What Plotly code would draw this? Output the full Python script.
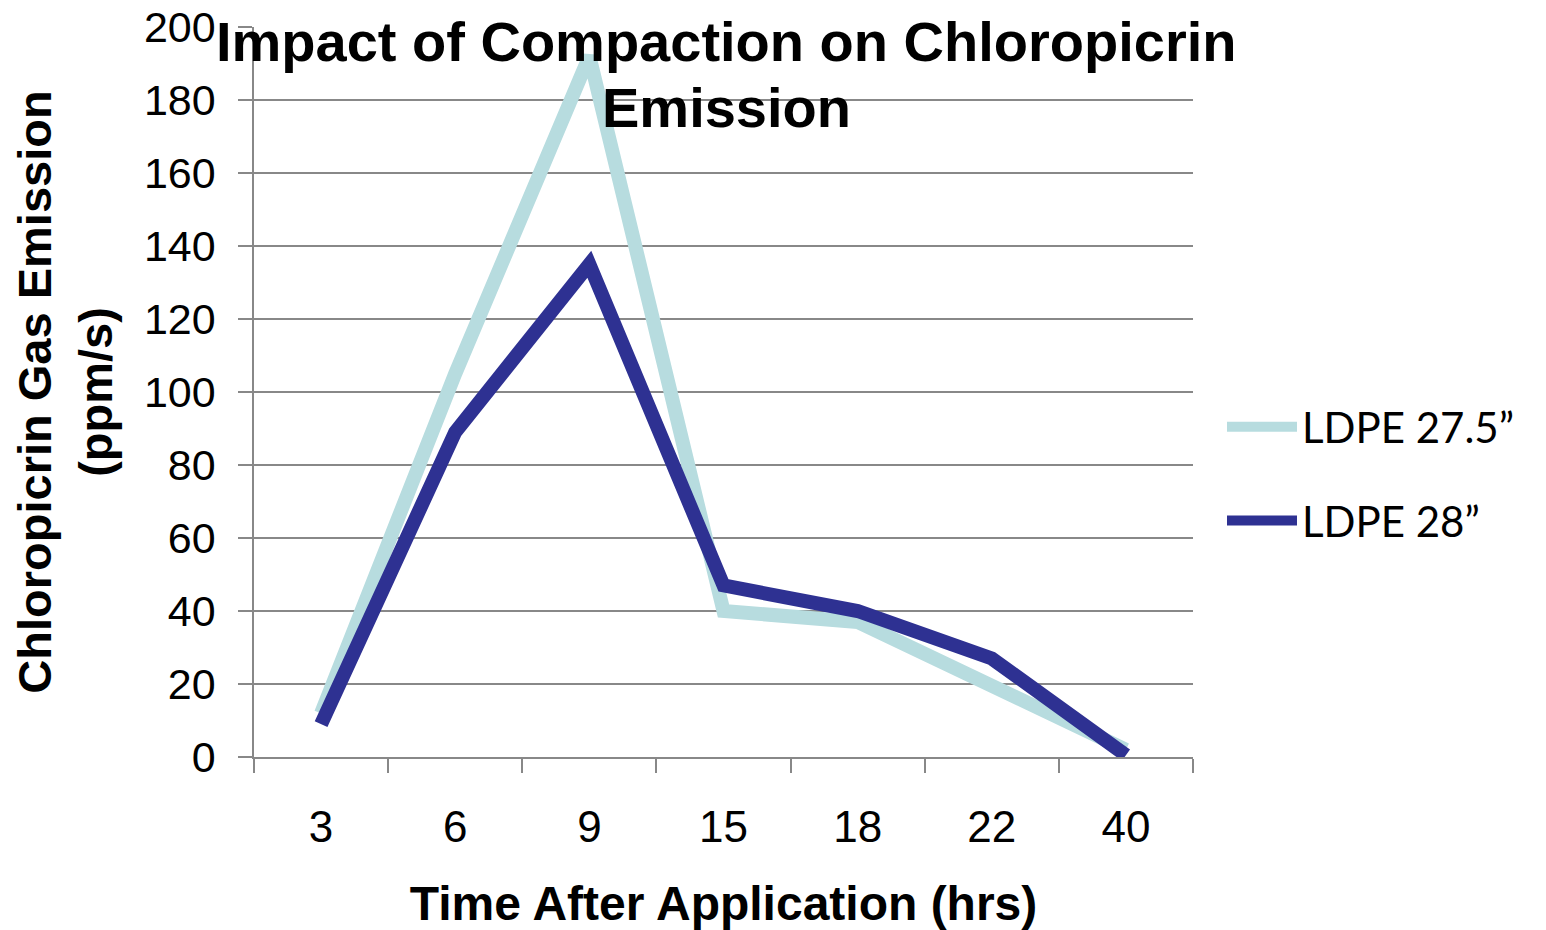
import plotly.graph_objects as go

categories = ["3", "6", "9", "15", "18", "22", "40"]
ldpe_275 = [12, 105, 192, 40, 37, 20, 2]
ldpe_28 = [9, 89, 135, 47, 40, 27, 0.5]
y_ticks = [0, 20, 40, 60, 80, 100, 120, 140, 160, 180, 200]
title_lines = ["Impact of Compaction on Chloropicrin", "Emission"]

FONT = "Liberation Sans, Arial, sans-serif"

fig = go.Figure()
fig.add_trace(go.Scatter(x=categories, y=ldpe_275, mode="lines", name="LDPE 27.5\u201d",
                         legendgroup="a", line=dict(color="#B7DCDF", width=14)))
fig.add_trace(go.Scatter(x=categories, y=ldpe_28, mode="lines", name="LDPE 28\u201d",
                         legendgroup="b", line=dict(color="#2E3192", width=14)))

# two-line chart title (tight line spacing like the original)
for txt, yc in zip(title_lines, [42, 107]):
    fig.add_annotation(text=f"<b>{txt}</b>", xref="paper", yref="paper",
                       x=(726 - 254) / 939, y=(757 - yc) / 730,
                       xanchor="center", yanchor="middle", showarrow=False,
                       font=dict(size=56, family=FONT, color="black"))

fig.update_layout(
    width=1546, height=930,
    paper_bgcolor="white", plot_bgcolor="white",
    margin=dict(l=246, r=361, t=19, b=181),
    font=dict(family=FONT, color="black", size=44),
    showlegend=True,
    legend=dict(x=(1222 - 254) / 939, xanchor="left", y=(757 - 474) / 730, yanchor="middle",
                font=dict(family="Lato, Open Sans, sans-serif", size=42, color="black"),
                tracegroupgap=36, itemwidth=70, bgcolor="rgba(0,0,0,0)"),
    xaxis=dict(type="category", categoryorder="array", categoryarray=categories,
               range=[-0.5, 6.5], automargin=False,
               showline=True, linecolor="#888888", linewidth=1.5,
               ticks="outside", tickson="boundaries", ticklen=14, tickcolor="#888888", tickwidth=1.5,
               showgrid=False, tickfont=dict(size=44), ticklabelstandoff=30,
               title=dict(text="<b>Time After Application (hrs)</b>", font=dict(size=48), standoff=37)),
    yaxis=dict(range=[0, 200], tickvals=y_ticks, automargin=False, ticklabeloverflow="allow",
               showline=True, linecolor="#888888", linewidth=1.5,
               ticks="outside", ticklen=14, tickcolor="#888888", tickwidth=1.5,
               showgrid=True, gridcolor="#888888", gridwidth=1.5, zeroline=False,
               tickfont=dict(size=43), ticklabelstandoff=14,
               title=dict(text="<b>Chloropicrin Gas Emission<br>(ppm/s)</b>", font=dict(size=47), standoff=25)),
)

fig.write_html("out.html")
